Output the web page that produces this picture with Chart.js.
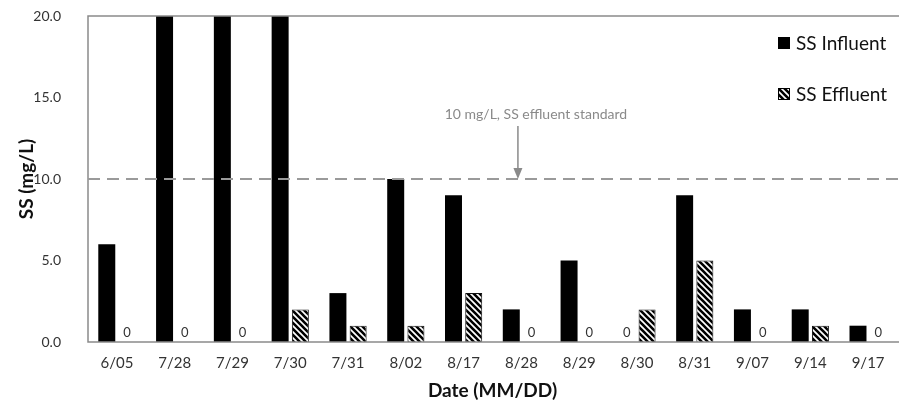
<!DOCTYPE html>
<html>
<head>
<meta charset="utf-8">
<script src="https://cdn.jsdelivr.net/npm/chart.js@4/dist/chart.umd.min.js"></script>
<style>
html,body{margin:0;padding:0;background:#fff;}
#wrap{width:900px;height:402px;position:relative;}
</style>
</head>
<body>
<div id="wrap"><canvas id="c" width="900" height="402"></canvas></div>
<script>
const categories = ['6/05','7/28','7/29','7/30','7/31','8/02','8/17','8/28','8/29','8/30','8/31','9/07','9/14','9/17'];
const influent = [6, 20, 20, 20, 3, 10, 9, 2, 5, 0, 9, 2, 2, 1];
const effluent = [0, 0, 0, 2, 1, 1, 3, 0, 0, 2, 5, 0, 1, 0];
const yTicks = [0, 5, 10, 15, 20];
const standardValue = 10;
const standardLabel = '10 mg/L, SS effluent standard';
const seriesNames = ['SS Influent', 'SS Effluent'];

const FONT = 'Lato';

function makeHatch(ctx) {
  const s = 6;
  const c = document.createElement('canvas');
  c.width = s; c.height = s;
  const g = c.getContext('2d');
  g.fillStyle = '#fff';
  g.fillRect(0, 0, s, s);
  g.strokeStyle = '#000';
  g.lineWidth = 2.6;
  g.beginPath();
  for (let k = -1; k <= 1; k++) {
    g.moveTo(k * s - 1, -1);
    g.lineTo(k * s + s + 1, s + 1);
  }
  g.stroke();
  return ctx.createPattern(c, 'repeat');
}

const canvas = document.getElementById('c');
const ctx0 = canvas.getContext('2d');
const hatch = makeHatch(ctx0);

const decorPlugin = {
  id: 'decor',
  afterDatasetsDraw(chart) {
    const ctx = chart.ctx;
    const a = chart.chartArea;
    const y = chart.scales.y;
    const x = chart.scales.x;
    ctx.save();
    // frame
    ctx.strokeStyle = '#8a8a8a';
    ctx.lineWidth = 1.5;
    ctx.beginPath();
    ctx.moveTo(a.right + 2, a.top);
    ctx.lineTo(a.left, a.top);
    ctx.lineTo(a.left, a.bottom);
    ctx.lineTo(a.right + 2, a.bottom);
    ctx.stroke();
    // standard dashed line
    const ys = y.getPixelForValue(standardValue);
    ctx.strokeStyle = '#9a9a9a';
    ctx.lineWidth = 2;
    ctx.setLineDash([12, 7]);
    ctx.beginPath();
    ctx.moveTo(a.left, ys);
    ctx.lineTo(a.right + 2, ys);
    ctx.stroke();
    ctx.setLineDash([]);
    // arrow
    const ax = x.getPixelForValue(6.94);
    ctx.strokeStyle = '#8a8a8a';
    ctx.fillStyle = '#8a8a8a';
    ctx.lineWidth = 1.5;
    ctx.beginPath();
    ctx.moveTo(ax, ys - 53);
    ctx.lineTo(ax, ys - 8);
    ctx.stroke();
    ctx.beginPath();
    ctx.moveTo(ax - 4.5, ys - 11);
    ctx.lineTo(ax + 4.5, ys - 11);
    ctx.lineTo(ax, ys);
    ctx.closePath();
    ctx.fill();
    ctx.font = '14px ' + FONT;
    ctx.textAlign = 'center';
    ctx.textBaseline = 'middle';
    ctx.fillStyle = '#8a8a8a';
    ctx.fillText(standardLabel, ax + 18, ys - 65);
    // zero labels
    ctx.fillStyle = '#333';
    ctx.font = '13px ' + FONT;
    ctx.textAlign = 'center';
    ctx.textBaseline = 'middle';
    chart.data.datasets.forEach((ds, di) => {
      const meta = chart.getDatasetMeta(di);
      ds.data.forEach((v, i) => {
        if (v === 0) {
          const el = meta.data[i];
          ctx.fillText('0', el.x, a.bottom - 9);
        }
      });
    });
    // legend
    const lx = a.right - 119;
    const items = [{y: 43, fill: '#000'}, {y: 94, fill: hatch}];
    items.forEach((it, i) => {
      ctx.fillStyle = it.fill;
      ctx.fillRect(lx, it.y - 6, 12, 12);
      ctx.strokeStyle = '#000';
      ctx.lineWidth = 1;
      ctx.strokeRect(lx + 0.5, it.y - 5.5, 11, 11);
      ctx.fillStyle = '#111';
      ctx.font = '19px ' + FONT;
      ctx.textAlign = 'left';
      ctx.textBaseline = 'middle';
      ctx.fillText(seriesNames[i], lx + 18, it.y + 1);
    });
    ctx.restore();
  }
};

new Chart(canvas, {
  type: 'bar',
  data: {
    labels: categories,
    datasets: [
      {label: seriesNames[0], data: influent, backgroundColor: '#000', borderColor: '#000', borderWidth: 0,
       categoryPercentage: 0.7, barPercentage: 0.84},
      {label: seriesNames[1], data: effluent, backgroundColor: hatch, borderColor: '#111', borderWidth: 1,
       categoryPercentage: 0.7, barPercentage: 0.84}
    ]
  },
  options: {
    responsive: false,
    animation: false,
    devicePixelRatio: 1,
    layout: {padding: {left: 15, right: 3, top: 16, bottom: 0}},
    plugins: {legend: {display: false}, tooltip: {enabled: false}},
    scales: {
      x: {
        grid: {display: false},
        border: {display: false},
        ticks: {color: '#333', font: {family: FONT, size: 15}, padding: 4, maxRotation: 0},
        title: {display: true, text: 'Date (MM/DD)', color: '#111', font: {family: FONT, size: 19, weight: 'bold'}, padding: {top: 6, bottom: 0}},
        afterFit(s) { s.height = 60; s.paddingLeft = 0; s.paddingRight = 0; }
      },
      y: {
        min: 0, max: 20,
        grid: {display: false},
        border: {display: false},
        afterBuildTicks(s) { s.ticks = yTicks.map(v => ({value: v})); },
        ticks: {color: '#333', font: {family: FONT, size: 14}, padding: 19, callback: v => Number(v).toFixed(1)},
        title: {display: true, text: 'SS (mg/L)', color: '#111', font: {family: FONT, size: 19, weight: 'bold'}, padding: {top: 0, bottom: 4}},
        afterFit(s) { s.width = 73; s.paddingTop = 0; s.paddingBottom = 0; }
      }
    }
  },
  plugins: [decorPlugin]
});
</script>
</body>
</html>
